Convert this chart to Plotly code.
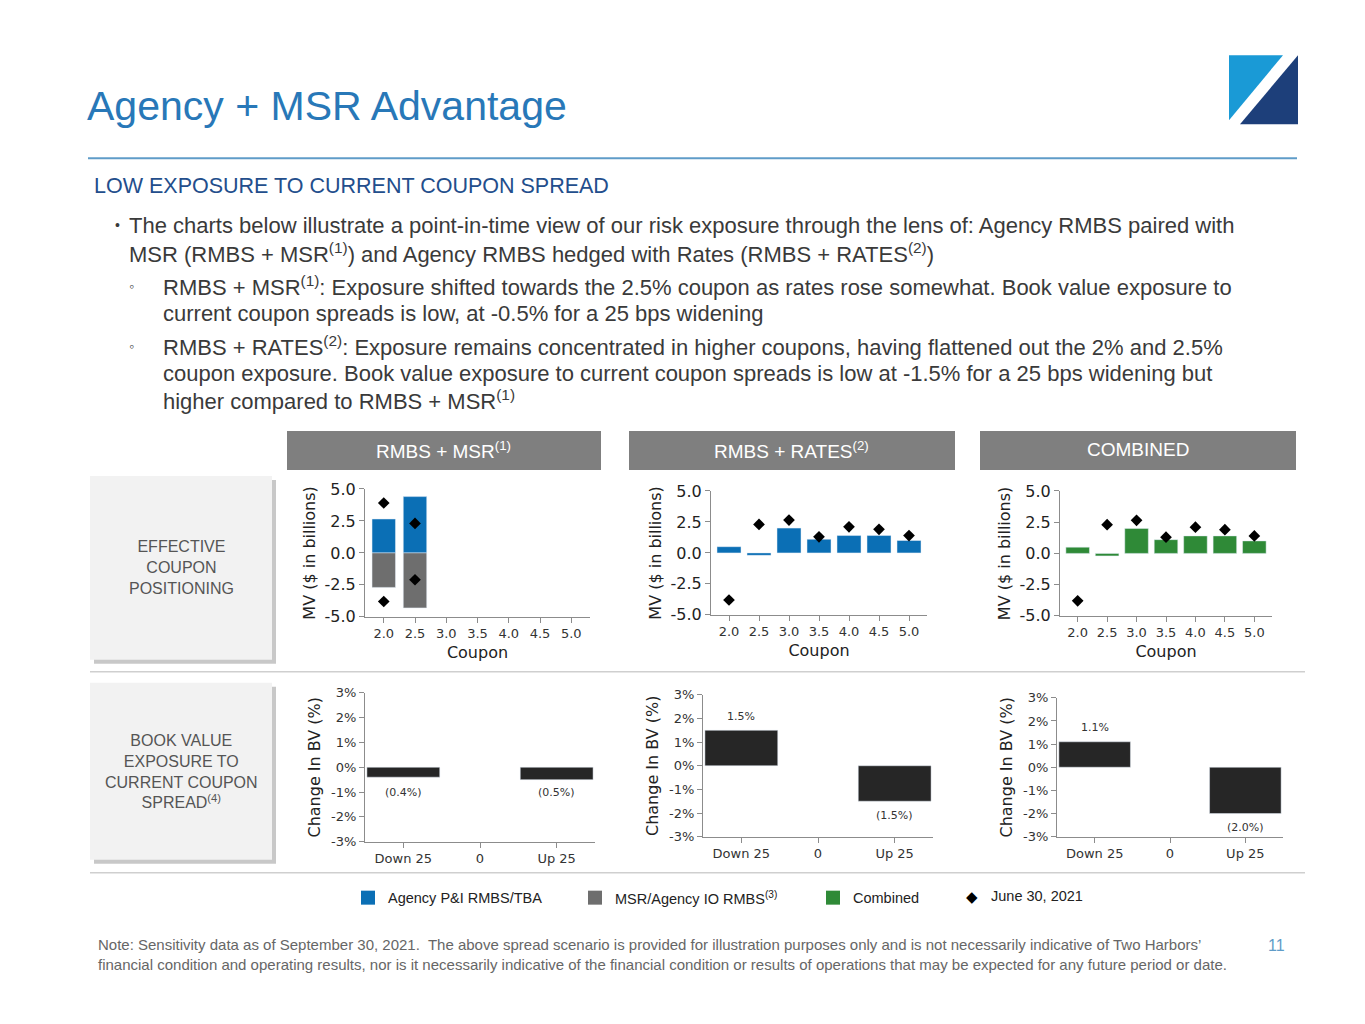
import plotly.graph_objects as go

W, H = 1365, 1008
OFF = 8  # page body margin

coupons = ["2.0", "2.5", "3.0", "3.5", "4.0", "4.5", "5.0"]
msr_pi = [2.65, 4.4]
msr_io = [-2.7, -4.3]
msr_jun_x = ["2.0", "2.0", "2.5", "2.5"]
msr_jun = [3.9, -3.8, 2.3, -2.1]
rates_pi = [0.5, -0.2, 2.0, 1.1, 1.4, 1.4, 1.0]
rates_jun = [-3.8, 2.3, 2.65, 1.3, 2.1, 1.9, 1.4]
comb_mv = [0.5, -0.2, 2.0, 1.1, 1.4, 1.4, 1.0]
comb_jun = [-3.8, 2.3, 2.65, 1.3, 2.1, 1.9, 1.4]

scen = ["Down 25", "0", "Up 25"]
bv_msr = [-0.4, -0.5]
bv_rates = [1.5, -1.5]
bv_comb = [1.1, -2.0]
bv_labels_msr = ["(0.4%)", "(0.5%)"]
bv_labels_rates = ["1.5%", "(1.5%)"]
bv_labels_comb = ["1.1%", "(2.0%)"]

BLUE, GREY, GREEN, DARK = "#0b6fb5", "#6e6e6e", "#2f8a37", "#262626"
FONT = "DejaVu Sans"
SANS = "Liberation Sans"

def X(x):
    return (x - OFF) / W

def Y(y):
    y = (y - 8.9) / 0.9818
    return 1 - (y - OFF) / H

def px(x0, x1):
    return [X(x0), X(x1)]

def py(y0, y1):
    return [Y(y1), Y(y0)]

fig = go.Figure()
layout = {}

top = [(365, 590, 489, 617), (711, 927, 491, 615), (1060, 1272, 491, 616)]
bot = [(365, 595, 693, 842), (703, 933, 695, 837), (1057, 1283, 698, 837)]

def add_axes(i, box, kind):
    xa, ya = f"xaxis{i}", f"yaxis{i}"
    common = dict(showgrid=False, zeroline=False, showline=True, linecolor="#8c8c8c",
                  ticks="outside", ticklen=5, tickcolor="#8c8c8c", fixedrange=True)
    if kind == "mv":
        layout[xa] = dict(domain=px(box[0], box[1]), anchor=f"y{i}", type="category",
                          categoryarray=coupons, categoryorder="array",
                          range=[-0.6, 6.6], tickfont=dict(size=13, color="#333"),
                          title=dict(text="Coupon", font=dict(size=16, color="#222"), standoff=6), **common)
        layout[ya] = dict(domain=py(box[2], box[3]), anchor=f"x{i}", range=[-5, 5],
                          tickvals=[-5, -2.5, 0, 2.5, 5], ticktext=["-5.0", "-2.5", "0.0", "2.5", "5.0"],
                          tickfont=dict(size=16, color="#222"),
                          title=dict(text="MV ($ in billions)", font=dict(size=16, color="#222"), standoff=4), **common)
    else:
        layout[xa] = dict(domain=px(box[0], box[1]), anchor=f"y{i}", type="category",
                          categoryarray=scen, categoryorder="array", range=[-0.5, 2.5],
                          tickfont=dict(size=13, color="#333"), **common)
        layout[ya] = dict(domain=py(box[2], box[3]), anchor=f"x{i}", range=[-3, 3],
                          tickvals=[-3, -2, -1, 0, 1, 2, 3], ticktext=["-3%", "-2%", "-1%", "0%", "1%", "2%", "3%"],
                          tickfont=dict(size=13, color="#333"),
                          title=dict(text="Change In BV (%)", font=dict(size=16, color="#222"), standoff=6), **common)

for i, b in enumerate(top, start=1):
    add_axes(i, b, "mv")
for i, b in enumerate(bot, start=4):
    add_axes(i, b, "bv")

dia = dict(mode="markers", marker=dict(symbol="diamond", size=9, color="black"), showlegend=False)
# chart 1
fig.add_bar(x=coupons[:2], y=msr_pi, marker_color=BLUE, width=0.75, xaxis="x", yaxis="y", showlegend=False)
fig.add_bar(x=coupons[:2], y=msr_io, marker_color=GREY, width=0.75, xaxis="x", yaxis="y", showlegend=False)
fig.add_scatter(x=msr_jun_x, y=msr_jun, xaxis="x", yaxis="y", **dia)
# chart 2
fig.add_bar(x=coupons, y=rates_pi, marker_color=BLUE, width=0.8, xaxis="x2", yaxis="y2", showlegend=False)
fig.add_scatter(x=coupons, y=rates_jun, xaxis="x2", yaxis="y2", **dia)
# chart 3
fig.add_bar(x=coupons, y=comb_mv, marker_color=GREEN, width=0.8, xaxis="x3", yaxis="y3", showlegend=False)
fig.add_scatter(x=coupons, y=comb_jun, xaxis="x3", yaxis="y3", **dia)

for i, vals, labs in [(4, bv_msr, bv_labels_msr), (5, bv_rates, bv_labels_rates), (6, bv_comb, bv_labels_comb)]:
    fig.add_bar(x=["Down 25", "Up 25"], y=vals, marker_color=DARK, width=0.95,
                xaxis=f"x{i}", yaxis=f"y{i}", showlegend=False)
    for xv, v, t in zip(["Down 25", "Up 25"], vals, labs):
        yy = (v + 0.6 if v > 0 else v - 0.6) if i != 4 else -1.0
        fig.add_annotation(x=xv, y=yy, xref=f"x{i}", yref=f"y{i}",
                           text=t, showarrow=False, font=dict(size=11, color="#333"))

fig.update_layout(barmode="relative", **layout)

shapes = []
ann = []

def rect(x0, y0, x1, y1, color):
    shapes.append(dict(type="rect", xref="paper", yref="paper", x0=X(x0), x1=X(x1),
                       y0=Y(y1), y1=Y(y0), fillcolor=color, line=dict(width=0), layer="below"))

def hline(x0, x1, y, color, w=1.5):
    shapes.append(dict(type="line", xref="paper", yref="paper", x0=X(x0), x1=X(x1),
                       y0=Y(y), y1=Y(y), line=dict(color=color, width=w)))

def text(x, y, t, size, color="#333", xanchor="left", yanchor="middle", align="left", family=SANS):
    ann.append(dict(x=X(x), y=Y(y), xref="paper", yref="paper", text=t, showarrow=False,
                    xanchor=xanchor, yanchor=yanchor, align=align,
                    font=dict(size=size, color=color, family=family)))

# title and rules
text(85, 106, "Agency + MSR Advantage", 41, "#2878b8")
hline(88, 1297, 158, "#5f9cc8", 2)
text(92, 186, "LOW EXPOSURE TO CURRENT COUPON SPREAD", 21.5, "#234e8c")

body = [
    (113, 225, "•", 14),
    (127, 225, "The charts below illustrate a point-in-time view of our risk exposure through the lens of: Agency RMBS paired with", 22),
    (127, 253, "MSR (RMBS + MSR<sup>(1)</sup>) and Agency RMBS hedged with Rates (RMBS + RATES<sup>(2)</sup>)", 22),
    (127, 286, "◦", 14),
    (161, 286, "RMBS + MSR<sup>(1)</sup>: Exposure shifted towards the 2.5% coupon as rates rose somewhat. Book value exposure to", 22),
    (161, 313, "current coupon spreads is low, at -0.5% for a 25 bps widening", 22),
    (127, 346, "◦", 14),
    (161, 346, "RMBS + RATES<sup>(2)</sup>: Exposure remains concentrated in higher coupons, having flattened out the 2% and 2.5%", 22),
    (161, 373, "coupon exposure. Book value exposure to current coupon spreads is low at -1.5% for a 25 bps widening but", 22),
    (161, 400, "higher compared to RMBS + MSR<sup>(1)</sup>", 22),
]
for x, y, t, s in body:
    text(x, y, t, s, "#3a3a3a")

# header bars
for x0, x1, lab in [(287, 601, "RMBS + MSR<sup>(1)</sup>"), (629, 955, "RMBS + RATES<sup>(2)</sup>"), (980, 1296, "COMBINED")]:
    rect(x0, 431, x1, 470, "#7f7f7f")
    text((x0 + x1) / 2, 450, lab, 19, "white", xanchor="center")

# left side boxes with shadow
for y0, y1, lab in [(476, 660, "EFFECTIVE<br>COUPON<br>POSITIONING"),
                    (683, 860, "BOOK VALUE<br>EXPOSURE TO<br>CURRENT COUPON<br>SPREAD<sup>(4)</sup>")]:
    rect(94, y0 + 4, 276, y1 + 4, "#c8c8c8")
    rect(90, y0, 272, y1, "#f2f2f2")
    text(181, (y0 + y1) / 2, lab, 16, "#555", xanchor="center", align="center")

hline(90, 1305, 672, "#cfcfcf", 1.5)
hline(90, 1305, 873, "#cfcfcf", 1.5)

# legend
legend_items = [(361, BLUE, "Agency P&I RMBS/TBA"), (588, GREY, "MSR/Agency IO RMBS<sup>(3)</sup>"), (826, GREEN, "Combined")]
for x, c, lab in legend_items:
    rect(x, 891, x + 14, 905, c)
    text(x + 25, 898, lab, 14.5, "#222")
text(972, 897, "◆", 15, "black", xanchor="center", family=FONT)
text(989, 896, "June 30, 2021", 14.5, "#222")

text(96, 955, "Note: Sensitivity data as of September 30, 2021.  The above spread scenario is provided for illustration purposes only and is not necessarily indicative of Two Harbors’<br>financial condition and operating results, nor is it necessarily indicative of the financial condition or results of operations that may be expected for any future period or date.",
     15, "#666")
text(1287, 946, "11", 16, "#5f9cc8", xanchor="right")

# logo
shapes.append(dict(type="path", xref="paper", yref="paper",
                   path=f"M {X(1229)},{Y(55)} L {X(1283)},{Y(55)} L {X(1229)},{Y(120)} Z",
                   fillcolor="#1a9ad6", line=dict(width=0)))
shapes.append(dict(type="path", xref="paper", yref="paper",
                   path=f"M {X(1298)},{Y(55)} L {X(1298)},{Y(124)} L {X(1240)},{Y(124)} Z",
                   fillcolor="#1d3f7a", line=dict(width=0)))

fig.update_layout(width=W, height=H, margin=dict(l=0, r=0, t=0, b=0),
                  plot_bgcolor="white", paper_bgcolor="white",
                  font=dict(family=FONT), shapes=shapes, annotations=list(fig.layout.annotations) + ann,
                  bargap=0.1)
fig.write_html("out.html")
